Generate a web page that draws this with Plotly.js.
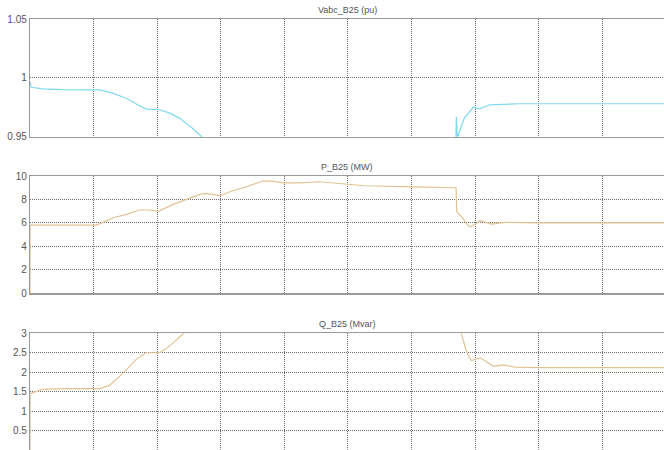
<!DOCTYPE html>
<html>
<head>
<meta charset="utf-8">
<script src="https://cdn.plot.ly/plotly-3.0.1.min.js"></script>
<style>html,body{margin:0;padding:0;background:#fff;}#chart{width:664px;height:450px;}</style>
</head>
<body>
<div id="chart"></div>
<script>
// Time (s) and values
const tV = [0, 0.02, 0.2, 0.5, 1.0, 1.1, 1.3, 1.52, 1.7, 1.83, 2.04, 2.2, 2.35, 2.5, 2.56, 2.70, 2.8, 6.69, 6.705, 6.72, 6.83, 6.97, 7.07, 7.23, 7.7, 8.5, 10];
const vabc = [0.997, 0.992, 0.9906, 0.990, 0.9897, 0.9897, 0.987, 0.9825, 0.977, 0.9735, 0.9729, 0.970, 0.9658, 0.960, 0.957, 0.950, 0.945, 0.93, 0.967, 0.949, 0.9658, 0.975, 0.9737, 0.9771, 0.978, 0.978, 0.978];

const tP = [0, 0.001, 0.5, 1.04, 1.15, 1.31, 1.52, 1.72, 1.86, 2.03, 2.25, 2.46, 2.67, 2.77, 2.98, 3.19, 3.40, 3.66, 3.80, 3.98, 4.24, 4.55, 4.74, 5.27, 6.0, 6.70, 6.71, 6.81, 6.89, 6.94, 7.08, 7.26, 7.47, 8, 10];
const pB25 = [0, 5.82, 5.82, 5.82, 6.05, 6.44, 6.73, 7.10, 7.10, 7.01, 7.58, 8.0, 8.43, 8.52, 8.32, 8.74, 9.08, 9.57, 9.57, 9.42, 9.42, 9.51, 9.42, 9.17, 9.08, 9.0, 6.96, 6.39, 5.75, 5.68, 6.19, 5.9, 6.05, 6.0, 6.0];

const tQ = [0, 0.001, 0.2, 0.57, 1.1, 1.25, 1.46, 1.67, 1.83, 2.04, 2.14, 2.30, 2.42, 2.5, 6.7, 6.78, 6.87, 6.94, 7.08, 7.29, 7.44, 7.63, 8, 10];
const qB25 = [0, 1.45, 1.556, 1.58, 1.58, 1.66, 1.97, 2.33, 2.50, 2.50, 2.60, 2.84, 3.0, 3.15, 3.6, 3.0, 2.5, 2.30, 2.37, 2.15, 2.19, 2.13, 2.12, 2.12];

const titles = ['Vabc_B25 (pu)', 'P_B25 (MW)', 'Q_B25 (Mvar)'];

const cyan = '#7fd9ef';
const tan = '#e2c292';

const traces = [
  {x: tV, y: vabc, xaxis: 'x', yaxis: 'y', mode: 'lines', line: {color: cyan, width: 1.2}, hoverinfo: 'skip'},
  {x: tP, y: pB25, xaxis: 'x2', yaxis: 'y2', mode: 'lines', line: {color: tan, width: 1.2}, hoverinfo: 'skip'},
  {x: tQ, y: qB25, xaxis: 'x3', yaxis: 'y3', mode: 'lines', line: {color: tan, width: 1.2}, hoverinfo: 'skip'}
];

const H = 450;
function dom(topPx, botPx) { return [Math.max(0, (H - botPx) / H), (H - topPx) / H]; }

const xBase = {
  range: [0, 9.97], dtick: 1, tick0: 0, showticklabels: false, ticks: '',
  showgrid: true, gridcolor: '#6a6a6a', griddash: '1px,1px', gridwidth: 1,
  showline: true, linecolor: '#9a9a9a', linewidth: 1.2, mirror: true, zeroline: false
};
const yBase = {
  showgrid: true, gridcolor: '#6a6a6a', griddash: '1px,1px', gridwidth: 1,
  showline: true, linecolor: '#9a9a9a', linewidth: 1.2, mirror: true, zeroline: false,
  ticks: '', tickfont: {family: 'Liberation Sans, Arial, sans-serif', size: 10, color: '#555'}
};

const layout = {
  width: 664, height: 450,
  margin: {l: 30, r: 0, t: 0, b: 0},
  paper_bgcolor: '#fff', plot_bgcolor: '#fff',
  showlegend: false,
  xaxis: Object.assign({}, xBase, {anchor: 'y'}),
  xaxis2: Object.assign({}, xBase, {anchor: 'y2'}),
  xaxis3: Object.assign({}, xBase, {anchor: 'y3'}),
  yaxis: Object.assign({}, yBase, {anchor: 'x', domain: dom(19, 136.7), range: [0.95, 1.05], tickvals: [0.95, 1, 1.05], ticktext: ['0.95', '1', '1.05']}),
  yaxis2: Object.assign({}, yBase, {anchor: 'x2', domain: dom(176, 293.3), range: [0, 10], dtick: 2}),
  yaxis3: Object.assign({}, yBase, {anchor: 'x3', domain: dom(333.3, 450), range: [0, 3], dtick: 0.5}),
  annotations: titles.map((t, i) => ({
    text: t, xref: 'paper', yref: 'paper', x: 0.5, xanchor: 'center',
    y: [(H - 10) / H, (H - 167) / H, (H - 324) / H][i], yanchor: 'middle',
    showarrow: false, font: {family: 'Liberation Sans, Arial, sans-serif', size: 9, color: '#555'}
  }))
};

Plotly.newPlot('chart', traces, layout, {staticPlot: true, displayModeBar: false});
</script>
</body>
</html>
